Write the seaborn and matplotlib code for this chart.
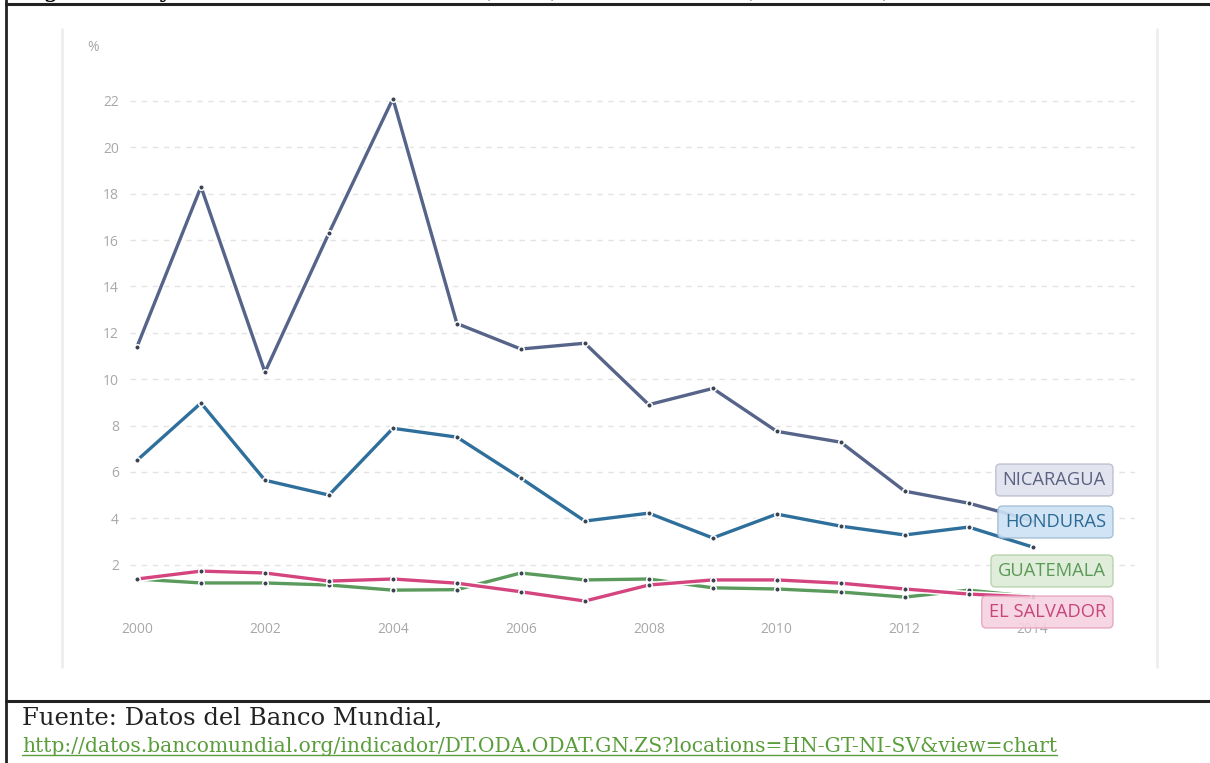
import numpy as np
import pandas as pd
import matplotlib
matplotlib.use('Agg')
from matplotlib import pyplot as plt
import matplotlib.patheffects as pe
from matplotlib.lines import Line2D
import seaborn as sns

# datos (% del INB)
years = list(range(2000, 2015))
nicaragua = [11.4, 18.3, 10.3, 16.3, 22.1, 12.4, 11.3, 11.55, 8.9, 9.6, 7.75, 7.28, 5.17, 4.65, 3.9]
honduras = [6.5, 8.97, 5.64, 5.0, 7.88, 7.5, 5.73, 3.88, 4.22, 3.15, 4.18, 3.66, 3.28, 3.62, 2.76]
guatemala = [1.38, 1.21, 1.21, 1.12, 0.9, 0.92, 1.64, 1.34, 1.38, 1.0, 0.95, 0.82, 0.6, 0.9, 0.62]
el_salvador = [1.38, 1.72, 1.64, 1.29, 1.38, 1.2, 0.83, 0.43, 1.12, 1.34, 1.34, 1.2, 0.95, 0.73, 0.6]

countries = ['GUATEMALA', 'EL SALVADOR', 'HONDURAS', 'NICARAGUA']
series = [guatemala, el_salvador, honduras, nicaragua]
colors = {'NICARAGUA': '#56648a', 'HONDURAS': '#2f6f9c', 'GUATEMALA': '#5a9a5c', 'EL SALVADOR': '#d4457f'}

df = pd.DataFrame({
    'year': years * len(countries),
    'value': sum(series, []),
    'country': np.repeat(countries, len(years)),
})

sns.set_style('white')
plt.rcParams['font.family'] = ['Open Sans', 'DejaVu Sans']

fig = plt.figure(figsize=(12.1, 7.63), dpi=100)
ax = fig.add_axes([130 / 1210, 1 - 611 / 763, 1005 / 1210, 517 / 763])

sns.lineplot(data=df, x='year', y='value', hue='country', hue_order=countries,
             palette=colors, linewidth=2.4, legend=False, ax=ax)
for ln in ax.get_lines():
    ln.set_path_effects([pe.Stroke(linewidth=4.6, foreground='white'), pe.Normal()])
sns.scatterplot(data=df, x='year', y='value', color='#3a4352', s=16,
                edgecolor='white', linewidth=1.1, zorder=5, ax=ax, legend=False)

ax.set_xlim(1999.89, 2015.6)
ax.set_ylim(0, 22.3)
ax.set_yticks(range(2, 23, 2))
ax.set_xticks(range(2000, 2015, 2))
ax.set_xticklabels([str(y) for y in range(2000, 2015, 2)])
ax.set_xlabel('')
ax.set_ylabel('')
ax.yaxis.grid(True, linestyle=(0, (4, 4)), color='#e3e3e3', linewidth=1)
ax.xaxis.grid(False)
for s in ax.spines.values():
    s.set_visible(False)
ax.tick_params(axis='y', length=0, pad=8, labelsize=10, labelcolor='#a8a8a8')
ax.tick_params(axis='x', length=5, width=0.8, color='#cccccc', direction='in',
               pad=8, labelsize=10, labelcolor='#a8a8a8')
ax.text(-0.043, 1.09, '%', transform=ax.transAxes, fontsize=10, color='#a8a8a8',
        ha='left', va='center')

# etiquetas de las series
labels = [('NICARAGUA', 480, '#5b6382', '#dfe1ee', '#b9bccf'),
          ('HONDURAS', 522, '#2c6a96', '#cce2f4', '#9dbbd4'),
          ('GUATEMALA', 571, '#5c9a58', '#dcecd6', '#b3d0a8'),
          ('EL SALVADOR', 612, '#c8457a', '#f7d2e0', '#e3a3bd')]
for name, ypx, tc, fc, ec in labels:
    fig.text(1106 / 1210, 1 - ypx / 763, name, ha='right', va='center', fontsize=13.2,
             color=tc, zorder=10,
             bbox=dict(boxstyle='round,pad=0.38,rounding_size=0.25', fc=fc, ec=ec,
                       lw=1, alpha=0.9))

# marco del panel
fig.add_artist(Line2D([62 / 1210] * 2, [1 - 29 / 763, 1 - 667 / 763], color='#eeeeee', lw=2))
fig.add_artist(Line2D([1157 / 1210] * 2, [1 - 29 / 763, 1 - 667 / 763], color='#eeeeee', lw=2))

# marco del documento
fig.add_artist(Line2D([6 / 1210, 1], [1 - 4 / 763] * 2, color='#222222', lw=2.2))
fig.add_artist(Line2D([6 / 1210, 1], [1 - 701 / 763] * 2, color='#222222', lw=2.2))
fig.add_artist(Line2D([6 / 1210] * 2, [0, 1], color='#222222', lw=2))

# titulo cortado arriba
fig.text(18 / 1210, 1 + 3 / 763, 'Figura 4. Ayuda oficial al desarrollo (AOD) neta recibida (% del INB)',
         fontsize=18, family='DejaVu Serif', color='black', ha='left', va='baseline')

fig.text(22 / 1210, 1 - 718 / 763, 'Fuente: Datos del Banco Mundial,', fontsize=17.5,
         family='DejaVu Serif', color='#222222', ha='left', va='center')
link = fig.text(22 / 1210, 1 - 747 / 763,
                'http://datos.bancomundial.org/indicador/DT.ODA.ODAT.GN.ZS?locations=HN-GT-NI-SV&view=chart',
                fontsize=14.6, family='DejaVu Serif', color='#5a9e3c', ha='left', va='center')
fig.canvas.draw()
bb = link.get_window_extent().transformed(fig.transFigure.inverted())
fig.add_artist(Line2D([bb.x0, bb.x1], [bb.y0 + 0.002] * 2, color='#5a9e3c', lw=1))

fig.savefig('out.png', dpi=100)
